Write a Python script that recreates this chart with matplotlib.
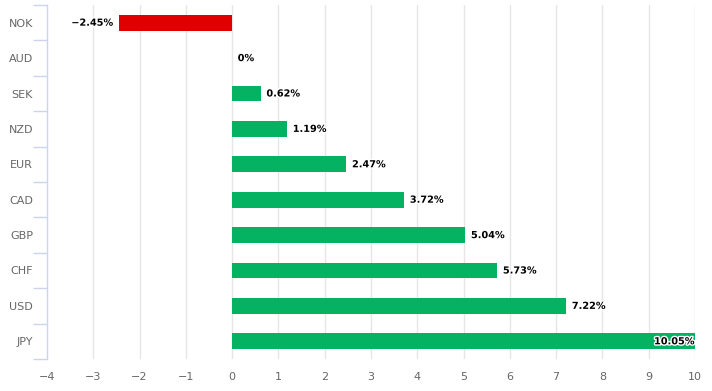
import numpy as np
import matplotlib
matplotlib.use('Agg')
import matplotlib.pyplot as plt
import matplotlib.patheffects as pe

# donnees
devises = ['NOK', 'AUD', 'SEK', 'NZD', 'EUR', 'CAD', 'GBP', 'CHF', 'USD', 'JPY']
variations = [-2.45, 0, 0.62, 1.19, 2.47, 3.72, 5.04, 5.73, 7.22, 10.05]
etiquettes = ['\u22122.45%', '0%', '0.62%', '1.19%', '2.47%', '3.72%', '5.04%', '5.73%', '7.22%', '10.05%']
graduations = np.arange(-4, 11)

vert = '#05b262'
rouge = '#e00000'

fig = plt.figure(figsize=(7.12, 3.91), dpi=100)
ax = fig.add_axes([47 / 712, 32 / 391, 648 / 712, 354 / 391])

y = np.arange(len(devises))
couleurs = [rouge if v < 0 else vert for v in variations]
ax.barh(y, variations, height=0.45, color=couleurs, zorder=3)

ax.set_xlim(-4, 10)
ax.set_ylim(len(devises) - 0.5, -0.5)
ax.set_xticks(graduations)
ax.set_xticklabels([str(g).replace('-', '\u2212') for g in graduations])
ax.set_yticks(y)
ax.set_yticklabels(devises)
ax.set_yticks(np.arange(len(devises) + 1) - 0.5, minor=True)

for g in graduations[1:]:
    ax.axvline(g, color='#e6e6e6', lw=1, zorder=1)

for s in ['top', 'right', 'bottom']:
    ax.spines[s].set_visible(False)
ax.spines['left'].set_color('#ccd6eb')
ax.spines['left'].set_linewidth(1)

ax.tick_params(axis='x', length=0, colors='#666666', labelsize=8, pad=9)
ax.tick_params(axis='y', which='major', length=0, colors='#666666', labelsize=8, pad=10)
ax.tick_params(axis='y', which='minor', length=10, color='#ccd6eb', width=1)

contour = [pe.withStroke(linewidth=2, foreground='white')]
for i, (v, t) in enumerate(zip(variations, etiquettes)):
    if v < 0:
        ax.text(v - 0.12, i, t, ha='right', va='center', fontsize=7, fontweight='bold',
                color='black', path_effects=contour, zorder=4)
    elif v > 9.5:
        ax.text(v - 0.06, i, t, ha='right', va='center', fontsize=7, fontweight='bold',
                color='black', path_effects=contour, zorder=4)
    else:
        ax.text(v + 0.12, i, t, ha='left', va='center', fontsize=7, fontweight='bold',
                color='black', path_effects=contour, zorder=4)

fig.savefig('out.png', dpi=100)
